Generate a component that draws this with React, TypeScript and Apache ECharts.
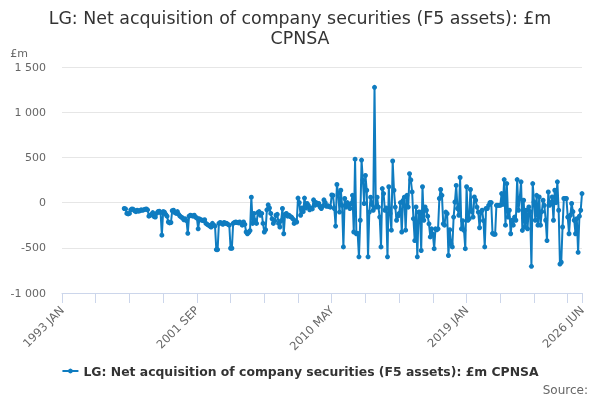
import React, { useEffect, useRef } from 'react';
import * as echarts from 'echarts';

const MONTHS = ['JAN', 'FEB', 'MAR', 'APR', 'MAY', 'JUN', 'JUL', 'AUG', 'SEP', 'OCT', 'NOV', 'DEC'];

// monthly categories 1993 JAN .. 2026 JUN
const categories: string[] = [];
for (let y = 1993; y <= 2026; y++) {
  for (let m = 0; m < 12; m++) {
    if (y === 2026 && m > 5) break;
    categories.push(`${y} ${MONTHS[m]}`);
  }
}

// £m, one array per year (series starts 1997 JAN)
const v1997 = [-65, -70, -120, -125, -120, -80, -70, -75, -90, -100, -85, -95];
const v1998 = [-90, -80, -85, -80, -75, -70, -80, -150, -140, -130, -110, -155];
const v1999 = [-160, -120, -100, -95, -110, -360, -100, -105, -130, -150, -215, -225];
const v2000 = [-220, -90, -85, -110, -120, -100, -130, -150, -160, -170, -190, -180];
const v2001 = [-200, -340, -150, -140, -145, -150, -140, -160, -170, -290, -180, -190];
const v2002 = [-195, -200, -190, -230, -240, -250, -260, -270, -230, -250, -260, -520];
const v2003 = [-520, -230, -220, -230, -240, -220, -230, -230, -240, -250, -505, -505];
const v2004 = [-230, -220, -215, -220, -225, -215, -230, -250, -215, -240, -325, -345];
const v2005 = [-330, -310, 60, -230, -120, -200, -230, -110, -100, -140, -120, -230];
const v2006 = [-325, -300, -80, -25, -60, -120, -180, -230, -200, -140, -130, -230];
const v2007 = [-270, -200, -65, -345, -130, -120, -150, -140, -155, -160, -180, -230];
const v2008 = [-200, -215, 50, 0, -140, -60, -100, 50, -60, -10, -30, -80];
const v2009 = [-60, -70, 30, -30, 0, -20, -10, -50, -65, -40, 30, 0];
const v2010 = [-40, -35, -45, -50, 85, 80, -65, -260, 200, 100, -105, 137];
const v2011 = [-30, -490, 45, -50, 0, -20, -65, -10, 80, -325, 480, -345];
const v2012 = [-340, -600, -195, 470, 250, -10, 300, 137, -600, -105, 60, -20];
const v2013 = [-85, 1275, -50, 60, -50, -160, -490, 155, 100, -85, -60, -600];
const v2014 = [175, -120, -305, 460, 137, -50, -195, -150, -120, 0, -325, 25];
const v2015 = [60, -305, 80, -50, 320, 250, 118, -178, -420, -48, -600, -105];
const v2016 = [-105, -530, 175, -195, -48, -85, -150, -235, -380, -290, -350, -510];
const v2017 = [-290, -300, -290, 45, 145, 80, -235, -250, -105, -122, -585, -300];
const v2018 = [-455, -490, -160, 7, 190, -65, -140, 278, -290, -200, -307, -510];
const v2019 = [175, -195, -178, 145, -100, -160, 63, 26, -50, -105, -278, -105];
const v2020 = [-85, -200, -490, -65, -65, -30, 0, 0, -340, -350, -350, -30];
const v2021 = [-30, -30, -30, 100, -20, 255, -250, 210, -160, -85, -345, -195];
const v2022 = [-250, -160, -195, 255, -85, 50, 230, -307, 26, -270, -85, -290];
const v2023 = [-48, -100, -705, 210, 7, -195, 80, -250, 63, -250, -100, 26];
const v2024 = [-30, -195, -420, 118, -30, 0, 63, -195, 137, 0, 230, -85];
const v2025 = [-680, -660, -270, 45, 45, 45, -160, -345, -140, -10, -100, -195];
const v2026 = [-345, -178, -550, -150, -85, 100];

const noData: (number | null)[] = new Array(48).fill(null); // 1993-1996

const values: (number | null)[] = [
  ...noData,
  ...v1997, ...v1998, ...v1999, ...v2000, ...v2001, ...v2002, ...v2003, ...v2004,
  ...v2005, ...v2006, ...v2007, ...v2008, ...v2009, ...v2010, ...v2011, ...v2012,
  ...v2013, ...v2014, ...v2015, ...v2016, ...v2017, ...v2018, ...v2019, ...v2020,
  ...v2021, ...v2022, ...v2023, ...v2024, ...v2025, ...v2026,
];

const SERIES_NAME = 'LG: Net acquisition of company securities (F5 assets): £m CPNSA';
const LABEL_EVERY = 104;
const TICK_EVERY = 26;

const fmt = (v: number) => {
  const s = Math.abs(v).toString().replace(/\B(?=(\d{3})+(?!\d))/g, ' ');
  return (v < 0 ? '-' : '') + s;
};

const App: React.FC = () => {
  const chartRef = useRef<HTMLDivElement>(null);

  useEffect(() => {
    if (!chartRef.current) return;
    const chart = echarts.init(chartRef.current, undefined, { renderer: 'svg' });
    const last = categories.length - 1;

    chart.setOption({
      animation: false,
      textStyle: { fontFamily: 'DejaVu Sans' },
      title: {
        text: 'LG: Net acquisition of company securities (F5 assets): £m\nCPNSA',
        left: 'center',
        top: 3,
        textStyle: { fontSize: 17.4, fontWeight: 'normal', color: '#333', lineHeight: 20, fontFamily: 'DejaVu Sans' },
      },
      grid: { left: 62, right: 18, top: 67, bottom: 107 },
      legend: {
        bottom: 18,
        left: 'center',
        itemWidth: 16,
        itemHeight: 6,
        textStyle: { fontSize: 12.4, fontWeight: 'bold', color: '#333', fontFamily: 'DejaVu Sans' },
        data: [SERIES_NAME],
      },
      xAxis: {
        type: 'category',
        data: categories,
        boundaryGap: false,
        axisLine: { onZero: false, lineStyle: { color: '#ccd6eb' } },
        axisTick: {
          length: 10,
          lineStyle: { color: '#ccd6eb' },
          interval: (i: number) => i % TICK_EVERY === 0 || i === last,
        },
        axisLabel: {
          rotate: 45,
          color: '#666',
          fontSize: 11.5,
          margin: 15,
          interval: (i: number) => i % LABEL_EVERY === 0 || i === last,
        },
      },
      yAxis: {
        type: 'value',
        min: -1000,
        max: 1500,
        interval: 500,
        name: '£m',
        nameLocation: 'end',
        nameGap: 8,
        nameTextStyle: { color: '#666', fontSize: 11, align: 'right', padding: [0, 34, 0, 0] },
        axisLine: { show: false },
        axisTick: { show: false },
        splitLine: { lineStyle: { color: '#e6e6e6' } },
        axisLabel: { color: '#666', fontSize: 11, margin: 16, formatter: fmt },
      },
      graphic: [
        {
          type: 'text',
          right: 12,
          bottom: 4,
          style: { text: 'Source:', fill: '#666', fontSize: 12, fontFamily: 'DejaVu Sans' },
        },
      ],
      series: [
        {
          name: SERIES_NAME,
          type: 'line',
          data: values,
          color: '#0f7cc0',
          symbol: 'circle',
          symbolSize: 5,
          showAllSymbol: true,
          lineStyle: { width: 2 },
        },
      ],
    });

    return () => {
      chart.dispose();
    };
  }, []);

  return (
    <div
      ref={chartRef}
      style={{ position: 'fixed', left: 0, top: 0, width: '600px', height: '400px' }}
    ></div>
  );
};

export default App;
